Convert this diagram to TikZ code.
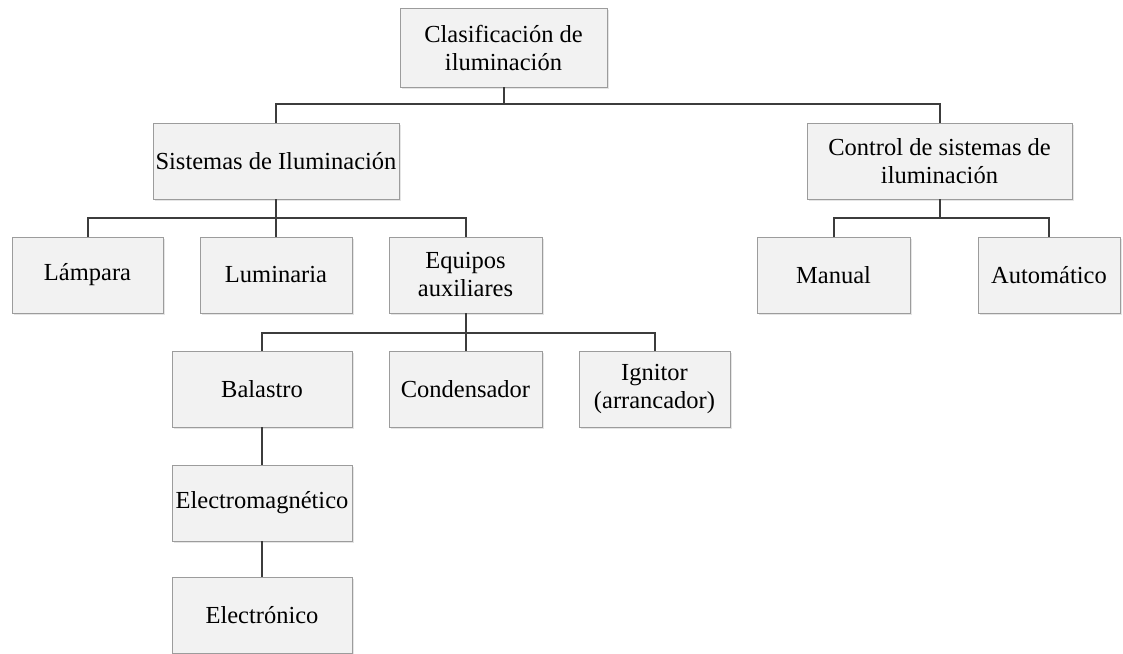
\documentclass[tikz,border=0pt]{standalone}
\usepackage{fontspec}
\setmainfont{Liberation Serif}
\usetikzlibrary{shadows}
\definecolor{linegray}{HTML}{3C3C3C}
\definecolor{boxborder}{HTML}{9C9C9C}
\definecolor{boxfill}{HTML}{F2F2F2}

\begin{document}
\begin{tikzpicture}
  [x=1pt,y=-1pt,
   every node/.style={rectangle,draw=boxborder,fill=boxfill,line width=0.8pt,
     align=center,inner sep=2pt,minimum height=76pt,
     font=\fontsize{24.5}{28}\selectfont,
     drop shadow={shadow xshift=2pt,shadow yshift=-2pt,fill=black!20}}]
  \useasboundingbox (0,0) rectangle (1123,653);

  \node[minimum width=207pt,minimum height=79pt] (root) at (503.5,47.5) {Clasificación de\\iluminación};
  \node[minimum width=246pt] (sis)  at (276,161)   {Sistemas de Iluminación};
  \node[minimum width=265pt] (ctrl) at (939.5,161) {Control de sistemas de\\iluminación};

  \node[minimum width=151pt] (lamp) at (87.5,275)  {Lámpara};
  \node[minimum width=152pt] (lum)  at (276,275)   {Luminaria};
  \node[minimum width=153pt] (equ)  at (465.5,275) {Equipos\\auxiliares};
  \node[minimum width=153pt] (man)  at (833.5,275) {Manual};
  \node[minimum width=142pt] (aut)  at (1049,275)  {Automático};

  \node[minimum width=180pt] (bal)  at (262,389)   {Balastro};
  \node[minimum width=153pt] (con)  at (465.5,389) {Condensador};
  \node[minimum width=151pt] (ign)  at (654.5,389) {Ignitor\\(arrancador)};

  \node[minimum width=180pt] (emag) at (262,503)   {Electromagnético};
  \node[minimum width=180pt] (elec) at (262,615)   {Electrónico};

  \coordinate (b1) at (0,104);
  \coordinate (b2) at (0,218);
  \coordinate (b3) at (0,333);

  \foreach \from/\to/\bus in {root/sis/b1, root/ctrl/b1,
      sis/lamp/b2, sis/lum/b2, sis/equ/b2, ctrl/man/b2, ctrl/aut/b2,
      equ/bal/b3, equ/con/b3, equ/ign/b3}
    \draw[linegray,line width=2pt] (\from.south) -- (\from.south |- \bus) -| (\to.north);

  \draw[linegray,line width=2pt] (bal) -- (emag);
  \draw[linegray,line width=2pt] (emag) -- (elec);

\end{tikzpicture}
\end{document}
